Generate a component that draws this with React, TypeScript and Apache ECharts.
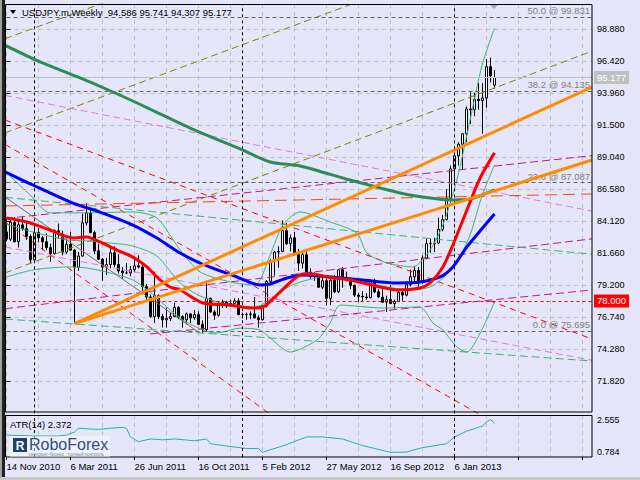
import React, { useEffect, useRef } from "react";
import * as echarts from "echarts";

const FONT = "'Liberation Sans', 'DejaVu Sans', sans-serif";
const BG = "#E6E6FA";

const symbolTitle = "USDJPY.m,Weekly";
const lastOHLC = ["94.586", "95.741", "94.307", "95.177"];
const atrTitle = "ATR(14) 2.372";

const dateLabels = ["14 Nov 2010", "6 Mar 2011", "26 Jun 2011", "16 Oct 2011", "5 Feb 2012", "27 May 2012", "16 Sep 2012", "6 Jan 2013"];
const yearStartWeeks = [7, 59, 112];

const opens = [
  83.30, 82.75, 84.05, 82.55, 83.85, 83.55, 82.95,
  81.15, 83.25, 82.85, 82.55, 82.10, 81.65, 83.40, 83.10, 81.75, 82.35,
  81.90, 80.60, 81.45, 84.00, 84.75, 83.25, 81.85, 81.20, 80.60, 80.80,
  81.70, 80.80, 80.30, 80.15, 80.15, 80.40, 80.70, 80.60, 79.10, 78.30,
  76.80, 78.40, 76.80, 76.55, 76.65, 76.80, 77.50, 76.80, 76.55, 77.00,
  76.70, 76.95, 76.20, 75.80, 78.20, 77.15, 76.90, 77.65, 77.90, 77.60,
  77.80, 78.00, 76.95, 76.95, 76.95, 77.00, 76.70, 76.55, 77.60, 79.50,
  81.10, 81.75, 81.80, 83.40, 82.40, 82.85, 81.60, 80.90, 81.55, 80.20,
  79.85, 79.90, 79.05, 79.55, 78.20, 79.60, 78.70, 80.40, 79.80, 79.60,
  79.20, 78.45, 78.35, 78.30, 78.25, 79.55, 78.70, 78.30, 77.90, 78.10,
  77.80, 77.95, 78.65, 78.45, 79.25, 79.85, 80.35, 79.50, 81.30, 82.40,
  82.40, 82.45, 83.50, 84.25, 85.90, 88.15, 89.15, 90.05, 90.85, 92.75,
  92.70, 93.50, 93.40, 93.60, 96.00, 94.586,
];
const highs = [
  84.40, 84.40, 84.45, 84.15, 84.50, 84.10, 83.10,
  83.70, 83.60, 83.00, 83.20, 82.40, 83.50, 83.95, 83.40, 82.80, 83.30,
  82.00, 81.75, 84.70, 85.50, 85.10, 83.40, 82.40, 81.30, 81.30, 82.20,
  82.20, 81.60, 80.60, 80.90, 80.70, 81.40, 81.50, 80.80, 79.30, 78.50,
  80.25, 78.50, 77.00, 77.50, 77.10, 77.85, 77.60, 76.90, 77.10, 77.05,
  77.30, 77.20, 76.50, 79.55, 78.25, 77.30, 78.00, 78.10, 78.00, 78.10,
  78.20, 78.20, 77.10, 77.10, 77.20, 78.30, 76.90, 77.70, 79.60, 81.20,
  81.85, 82.20, 84.20, 84.00, 83.10, 83.30, 82.00, 81.80, 81.90, 80.50,
  80.20, 80.05, 79.90, 79.70, 79.80, 80.00, 80.40, 80.60, 80.25, 79.80,
  79.25, 78.60, 78.75, 78.60, 79.65, 79.70, 78.90, 78.90, 78.40, 79.20,
  78.10, 78.90, 78.80, 79.50, 80.40, 80.70, 80.60, 81.50, 82.80, 82.80,
  82.85, 84.40, 84.60, 86.60, 88.40, 89.30, 90.20, 90.90, 92.95, 94.05,
  94.00, 94.75, 94.75, 96.60, 96.70, 95.741,
];
const lows = [
  82.60, 82.60, 82.50, 82.10, 83.40, 82.70, 80.90,
  81.10, 82.50, 81.90, 81.90, 81.00, 81.55, 82.80, 81.50, 81.60, 81.90,
  76.25, 80.30, 81.40, 83.80, 83.20, 81.60, 81.20, 79.55, 80.00, 80.50,
  80.60, 80.10, 79.70, 80.05, 79.90, 80.20, 80.50, 78.50, 78.10, 76.70,
  76.30, 76.60, 75.95, 75.95, 76.45, 76.75, 76.60, 75.95, 76.20, 76.30,
  76.55, 76.15, 75.55, 75.60, 77.10, 76.55, 76.80, 77.45, 77.45, 77.55,
  77.75, 76.90, 76.65, 76.55, 76.60, 76.65, 75.95, 76.50, 77.50, 79.20,
  79.95, 80.55, 81.75, 82.30, 81.80, 81.50, 80.30, 80.50, 80.10, 79.70,
  79.55, 79.00, 78.90, 77.65, 77.70, 78.60, 78.60, 79.00, 79.50, 78.90,
  78.30, 77.90, 77.90, 78.10, 78.20, 78.60, 78.25, 77.85, 77.15, 77.75,
  77.40, 77.90, 78.00, 78.35, 79.10, 79.40, 79.10, 79.30, 81.20, 81.70,
  81.75, 82.35, 83.35, 84.20, 85.50, 87.00, 88.40, 88.10, 90.20, 91.60,
  92.20, 92.70, 90.85, 92.85, 94.80, 94.307,
];
const closes = [
  82.75, 84.05, 82.55, 83.85, 83.55, 82.95, 81.15,
  83.25, 82.85, 82.55, 82.10, 81.65, 83.40, 83.10, 81.75, 82.35, 81.90,
  80.60, 81.45, 84.00, 84.75, 83.25, 81.85, 81.20, 80.60, 80.80, 81.70,
  80.80, 80.30, 80.15, 80.15, 80.40, 80.70, 80.60, 79.10, 78.30, 76.80,
  78.40, 76.80, 76.55, 76.65, 76.80, 77.50, 76.80, 76.55, 77.00, 76.70,
  76.95, 76.20, 75.80, 78.20, 77.15, 76.90, 77.65, 77.90, 77.60, 77.80,
  78.00, 76.95, 76.95, 76.95, 77.00, 76.70, 76.55, 77.60, 79.50, 81.10,
  81.75, 81.80, 83.40, 82.40, 82.85, 81.60, 80.90, 81.55, 80.20, 79.85,
  79.90, 79.05, 79.55, 78.20, 79.60, 78.70, 80.40, 79.80, 79.60, 79.20,
  78.45, 78.35, 78.30, 78.25, 79.55, 78.70, 78.30, 77.90, 78.10, 77.80,
  77.95, 78.65, 78.45, 79.25, 79.85, 80.35, 79.50, 81.30, 82.40, 82.40,
  82.45, 83.50, 84.25, 85.90, 88.15, 89.15, 90.05, 90.85, 92.75, 92.70,
  93.50, 93.40, 93.60, 96.00, 95.30, 95.177,
];

// moving averages / bands: [week index, price]
const maLong = [[-1, 97.75], [8.4, 96.37], [18.4, 95.14], [26.6, 94.06], [35.9, 92.75], [45.9, 91.29], [58.4, 89.68], [65.9, 88.68], [73.4, 88.37], [85.9, 87.29], [98.4, 86.3], [105.9, 85.91], [110.9, 85.76], [115.9, 85.83], [122, 86.53]];
const maBlue = [[-0.5, 87.95], [6.6, 86.91], [16.6, 85.52], [23.4, 84.83], [31.6, 83.83], [37.6, 82.83], [43.4, 81.68], [48.4, 80.91], [57.6, 79.84], [63.4, 79.22], [65.9, 79.3], [70.1, 79.76], [74.1, 79.99], [80.9, 79.84], [89.1, 79.61], [97.6, 79.38], [103.4, 79.45], [108.4, 79.84], [111.6, 80.61], [115.1, 82.15], [122, 84.68]];
const maRed = [[-0.5, 84.4], [5.1, 84.07], [10.9, 83.45], [16.6, 82.84], [20.1, 82.91], [23.4, 82.53], [27.6, 81.91], [31.6, 81.37], [35.1, 80.61], [38.4, 79.61], [40.9, 79.07], [43.4, 78.84], [49.1, 77.84], [55.9, 77.68], [60.9, 77.45], [64.1, 77.53], [67.6, 78.45], [71.6, 79.61], [74.1, 80.07], [76.6, 80.07], [80.1, 79.84], [85.9, 79.61], [93.4, 79.07], [97.6, 78.84], [103.4, 78.99], [105.9, 79.38], [109.1, 80.61], [111.6, 82.3], [115.1, 84.99], [118.4, 87.45], [122, 89.38]];
const bandUpper = [[-0.5, 88.0], [5.9, 86.15], [10.9, 84.77], [19.1, 84.77], [31.6, 84.84], [37.6, 84.38], [43.4, 81.92], [48.4, 80.23], [55.9, 79.46], [62.1, 79.22], [65.9, 81.53], [69.1, 83.84], [73.4, 84.84], [80.9, 84.07], [87.6, 83.22], [90.1, 81.68], [95.1, 80.92], [101.6, 80.61], [105.9, 81.92], [109.1, 83.84], [112.6, 87.3], [115.9, 91.91], [118.9, 96.13], [122, 98.98]];
const bandMiddle = [[-0.5, 83.95], [6.6, 83.3], [15.1, 82.69], [20.1, 82.61], [25.9, 82.45], [31.6, 82.22], [37.6, 81.45], [43.4, 79.38], [48.4, 78.38], [55.9, 77.68], [62.1, 77.53], [65.9, 78.07], [69.1, 78.84], [73.4, 79.45], [80.9, 79.91], [87.6, 79.61], [95.1, 79.07], [101.6, 78.84], [105.9, 79.07], [109.1, 79.76], [112.6, 80.99], [115.9, 83.07], [118.9, 86.1], [122, 88.45]];
const bandLower = [[-0.5, 79.8], [6.6, 80.38], [15.1, 80.61], [20.1, 80.53], [25.9, 80.15], [31.6, 79.61], [35.9, 78.68], [40.1, 77.53], [44.1, 76.53], [49.1, 75.76], [52.6, 75.53], [58.4, 75.91], [63.4, 75.76], [65.9, 75.15], [70.9, 74.07], [77.6, 74.99], [80.9, 76.3], [83.4, 77.68], [94.1, 77.45], [103.4, 77.53], [106.6, 76.3], [109.1, 75.76], [112.6, 74.45], [115.1, 74.07], [118.4, 75.53], [122, 77.91]];

const atrValues = [[0, 1.72], [7, 1.67], [13, 1.67], [15, 1.72], [17, 1.88], [18, 2.09], [20, 2.06], [23, 2.03], [26, 2.09], [29, 2.14], [30, 2.08], [31, 1.62], [33, 1.36], [36, 1.51], [39, 1.46], [42, 1.51], [47, 1.41], [50, 1.51], [51, 1.25], [56, 1.1], [60, 0.99], [63, 0.99], [64, 0.784], [70, 1.2], [75, 1.62], [79, 1.62], [84, 1.51], [89, 1.15], [96, 0.784], [100, 0.8], [104, 1.04], [110, 1.25], [112, 1.62], [115, 1.93], [118, 2.14], [119, 2.2], [120, 2.45], [121, 2.555], [122, 2.372]];
const atrScaleLabels = [0.784, 2.555];

const fiboLevels = ["50.0", "38.2", "23.6", "0.0"];
const fiboPrices = [99.831, 94.135, 87.087, 75.695];
const lastPrice = 95.177;
const alertPrice = 78.0;

// drawn objects: [week index, price] end points
const oliveChannel = [
  [[-0.375, 98.16], [146.375, 114.56]],
  [[-0.375, 90.92], [146.375, 107.67]],
  [[-0.375, 80.15], [146.375, 97.2]],
];
const orangeFan = [
  [[17, 76.25], [146.375, 94.44]],
  [[17, 76.25], [146.375, 88.83]],
];
const redTrends = [
  [[-0.375, 91.91], [146.375, 75.07]],
  [[-0.375, 90.03], [146.375, 64.36]],
  [[-0.375, 84.06], [146.375, 51.37]],
];
const magentaTrends = [
  [[-0.375, 84.33], [146.375, 89.17]],
  [[-0.375, 77.4], [146.375, 82.77]],
  [[35.875, 75.46], [146.375, 78.84]],
];
const violetTrends = [
  [[-0.375, 93.8], [146.375, 84.9]],
  [[-0.375, 82.15], [146.375, 73.43]],
];
const greenTrends = [
  [[-0.375, 85.96], [146.375, 81.59]],
  [[-0.375, 76.61], [146.375, 73.38]],
];
const orangeRedLevel = [[-0.375, 85.3], [146.375, 86.22]];
const grayTrend = [[-0.375, 85.99], [48, 75.6]];

function buildOption() {
  const candleData = opens.map((o, i) => [i, o, closes[i], lows[i], highs[i]]);
  const trend = (pts: number[][], color: string, width: number, type: any, z = 3) => ({
    type: "line", xAxisIndex: 0, yAxisIndex: 0, data: pts, symbol: "none", showSymbol: false,
    lineStyle: { color, width, type }, silent: true, z, clip: true, animation: false,
  });
  const curve = (pts: number[][], color: string, width: number, z = 4) => ({
    type: "line", xAxisIndex: 0, yAxisIndex: 0, data: pts, symbol: "none", showSymbol: false,
    smooth: 0.25, lineStyle: { color, width }, silent: true, z, clip: true, animation: false,
  });
  const series: any[] = [
    {
      type: "candlestick", xAxisIndex: 0, yAxisIndex: 0, data: candleData,
      encode: { x: 0, y: [1, 2, 3, 4] }, barWidth: 3, z: 2, silent: true,
      itemStyle: { color: "#FFFFFF", color0: "#000000", borderColor: "#000000", borderColor0: "#000000", borderWidth: 1 },
    },
    ...oliveChannel.map((p) => trend(p, "#808000", 1, [7, 4])),
    ...redTrends.map((p) => trend(p, "#FF0000", 1, [6, 5])),
    ...magentaTrends.map((p) => trend(p, "#C71585", 1, [8, 4])),
    ...violetTrends.map((p) => trend(p, "#E07AD8", 1, [7, 4])),
    ...greenTrends.map((p) => trend(p, "#3CB371", 1, [8, 4])),
    trend(orangeRedLevel, "#FF4500", 1, [12, 6]),
    curve(bandUpper, "#3CB371", 1),
    curve(bandMiddle, "#3CB371", 1),
    curve(bandLower, "#3CB371", 1),
    curve(maLong, "#2E8B57", 3, 5),
    curve(maBlue, "#0000FF", 3, 5),
    curve(maRed, "#FF0000", 3, 5),
    ...orangeFan.map((p) => trend(p, "#FF8C00", 3, "solid", 6)),
    {
      ...trend(grayTrend, "#707070", 1, "solid"),
      clip: false,
      markLine: {
        silent: true, symbol: ["none", "none"], animation: false,
        data: [
          ...yearStartWeeks.map((w) => ({ xAxis: w, lineStyle: { color: "#000000", type: [3, 3], width: 1 }, label: { show: false } })),
          ...fiboPrices.map((p, k) => ({
            yAxis: p, lineStyle: { color: "#646464", type: [4, 3], width: 1 },
            label: { show: true, position: "insideEndTop", distance: [2, 1], formatter: `${fiboLevels[k]} @ ${p.toFixed(3)}`, color: "#808080", fontSize: 9.5, fontFamily: FONT },
          })),
          {
            yAxis: lastPrice, lineStyle: { color: "#C0C0C0", type: "solid", width: 1 },
            label: { show: true, position: "end", distance: 2, formatter: lastPrice.toFixed(3), color: "#FFFFFF", backgroundColor: "#C0C0C0", padding: [2, 3, 1, 3], fontSize: 9.5, fontFamily: FONT },
          },
          {
            yAxis: alertPrice, lineStyle: { color: "#FF0000", type: [3, 3], width: 1 },
            label: { show: true, position: "end", distance: 2, formatter: alertPrice.toFixed(3), color: "#FFFFFF", backgroundColor: "#FF0000", padding: [2, 3, 1, 3], fontSize: 9.5, fontFamily: FONT },
          },
        ],
      },
    },
    {
      type: "line", xAxisIndex: 1, yAxisIndex: 1, data: atrValues, symbol: "none", showSymbol: false,
      lineStyle: { color: "#20B2AA", width: 1 }, silent: true, z: 3, animation: false,
      markLine: {
        silent: true, symbol: ["none", "none"], animation: false,
        data: yearStartWeeks.map((w) => ({ xAxis: w, lineStyle: { color: "#000000", type: [3, 3], width: 1 }, label: { show: false } })),
      },
    },
  ];

  const gridLine = { show: true, lineStyle: { color: "#C0C0C0", type: [4, 4], width: 1 } };
  const labelFont = { color: "#000000", fontSize: 9.5, fontFamily: FONT };

  return {
    animation: false,
    backgroundColor: BG,
    textStyle: { fontFamily: FONT },
    grid: [
      { left: 6.5, right: 48, top: 4, height: 409.3, show: false },
      { left: 6.5, right: 48, top: 415, height: 42, show: false },
    ],
    xAxis: [
      { gridIndex: 0, type: "value", min: 0, max: 146.375, interval: 8, axisLine: { show: false }, axisTick: { show: false }, axisLabel: { show: false }, splitLine: { ...gridLine, showMaxLine: false } },
      {
        gridIndex: 1, type: "value", position: "bottom", min: 0, max: 146.375, interval: 16,
        axisLine: { show: false }, axisTick: { show: true, length: 3, lineStyle: { color: "#000000" } },
        axisLabel: { ...labelFont, align: "left", margin: 4, showMaxLabel: false, formatter: (v: number) => dateLabels[Math.round(v / 16)] && Math.abs(v % 16) < 1e-6 ? dateLabels[Math.round(v / 16)] : "" },
        splitLine: { show: false },
      },
      { gridIndex: 1, type: "value", position: "top", min: 0, max: 146.375, interval: 8, axisLine: { show: false }, axisTick: { show: false }, axisLabel: { show: false }, splitLine: { ...gridLine, showMaxLine: false } },
    ],
    yAxis: [
      {
        gridIndex: 0, type: "value", position: "right", min: 69.36, max: 100.825, interval: 2.46,
        axisLine: { show: false }, axisTick: { show: true, length: 4, lineStyle: { color: "#000000" } },
        axisLabel: { ...labelFont, fontSize: 9, margin: 5, showMaxLabel: false, showMinLabel: false, formatter: (v: number) => (v < 70 || v > 100 ? "" : v.toFixed(3)) },
        splitLine: { ...gridLine, showMinLine: false, showMaxLine: false },
      },
      {
        gridIndex: 1, type: "value", position: "right", min: 0.531, max: 2.808, interval: 0.253,
        axisLine: { show: false }, axisTick: { show: false },
        axisLabel: { ...labelFont, fontSize: 9, margin: 5, formatter: (v: number) => (atrScaleLabels.some((a) => Math.abs(a - v) < 0.001) ? v.toFixed(3) : "") },
        splitLine: { show: false },
      },
    ],
    graphic: [
      { type: "rect", z: 100, shape: { x: 0, y: 0, width: 2, height: 480 }, style: { fill: "#A0A0A0" } },
      { type: "rect", z: 100, shape: { x: 2, y: 0, width: 3, height: 480 }, style: { fill: "#202020" } },
      { type: "rect", z: 100, shape: { x: 0, y: 477, width: 640, height: 3 }, style: { fill: "#C8C8C8" } },
      { type: "rect", z: 100, shape: { x: 5.5, y: 4.5, width: 586.5, height: 407.5 }, style: { fill: "none", stroke: "#000000", lineWidth: 1 } },
      { type: "rect", z: 100, shape: { x: 5.5, y: 415.5, width: 586.5, height: 41.5 }, style: { fill: "none", stroke: "#000000", lineWidth: 1 } },
      { type: "polygon", z: 100, shape: { points: [[10, 10], [16, 10], [13, 14]] }, style: { fill: "#000000" } },
      { type: "text", z: 100, x: 22, y: 12, style: { text: `${symbolTitle}  ${lastOHLC.join(" ")}`, fill: "#000000", font: `9.5px ${FONT}`, textVerticalAlign: "middle", verticalAlign: "middle" } },
      { type: "polygon", z: 100, shape: { points: [[490, 5], [498, 5], [494, 9]] }, style: { fill: "#A9A9A9" } },
      { type: "text", z: 100, x: 10, y: 424, style: { text: atrTitle, fill: "#000000", font: `9.5px ${FONT}`, textVerticalAlign: "middle", verticalAlign: "middle" } },
      { type: "rect", z: 100, shape: { x: 10, y: 436, width: 100, height: 21 }, style: { fill: "rgba(255,255,255,0.45)" } },
      { type: "rect", z: 101, shape: { x: 13, y: 438, width: 14, height: 14 }, style: { fill: "#1F3F6E" } },
      { type: "text", z: 102, x: 20, y: 445.5, style: { text: "R", fill: "#FFFFFF", font: `bold 12px ${FONT}`, textAlign: "center", align: "center", textVerticalAlign: "middle", verticalAlign: "middle" } },
      { type: "text", z: 101, x: 29, y: 444, style: { text: "RoboForex", fill: "#2F4F80", font: `16px ${FONT}`, textVerticalAlign: "middle", verticalAlign: "middle" } },
      { type: "text", z: 101, x: 29, y: 454, style: { text: "интернет-брокер · полный контроль", fill: "#8090A8", font: `4.5px ${FONT}`, textVerticalAlign: "middle", verticalAlign: "middle" } },
    ],
    series,
  };
}

export default function App() {
  const ref = useRef<HTMLDivElement>(null);
  useEffect(() => {
    if (!ref.current) return;
    const chart = echarts.init(ref.current, null, { renderer: "svg", width: 640, height: 480 });
    chart.setOption(buildOption() as any);
    return () => chart.dispose();
  }, []);
  return <div ref={ref} style={{ position: "fixed", left: 0, top: 0, width: 640, height: 480, background: BG }} />;
}
